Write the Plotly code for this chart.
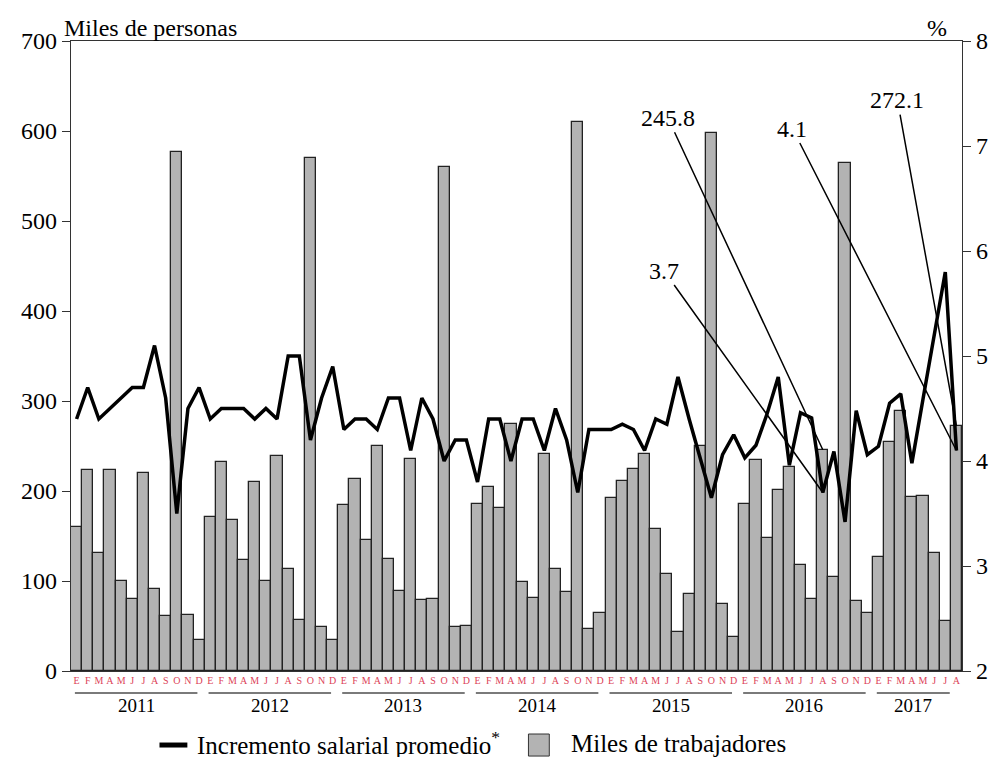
import plotly.graph_objects as go

years = ["2011", "2012", "2013", "2014", "2015", "2016", "2017"]
month_letters = ["E", "F", "M", "A", "M", "J", "J", "A", "S", "O", "N", "D"]

trabajadores_2011 = [160, 223, 131, 223, 100, 80, 220, 91, 61, 577, 62, 35]
trabajadores_2012 = [171, 232, 168, 123, 210, 100, 239, 113, 57, 570, 49, 35]
trabajadores_2013 = [184, 213, 146, 250, 125, 89, 236, 79, 80, 560, 49, 50]
trabajadores_2014 = [186, 205, 181, 275, 99, 81, 241, 113, 88, 610, 47, 65]
trabajadores_2015 = [192, 211, 225, 241, 158, 108, 43, 86, 250, 598, 75, 38]
trabajadores_2016 = [186, 235, 148, 201, 227, 118, 80, 245.8, 104, 564, 78, 65]
trabajadores_2017 = [127, 254, 289, 193, 194, 131, 56, 272.1]

incremento_2011 = [4.4, 4.7, 4.4, 4.5, 4.6, 4.7, 4.7, 5.1, 4.6, 3.5, 4.5, 4.7]
incremento_2012 = [4.4, 4.5, 4.5, 4.5, 4.4, 4.5, 4.4, 5.0, 5.0, 4.2, 4.6, 4.9]
incremento_2013 = [4.3, 4.4, 4.4, 4.3, 4.6, 4.6, 4.1, 4.6, 4.4, 4.0, 4.2, 4.2]
incremento_2014 = [3.8, 4.4, 4.4, 4.0, 4.4, 4.4, 4.1, 4.5, 4.2, 3.7, 4.3, 4.3]
incremento_2015 = [4.3, 4.35, 4.3, 4.1, 4.4, 4.35, 4.8, 4.4, 4.02, 3.65, 4.06, 4.25]
incremento_2016 = [4.03, 4.15, 4.45, 4.8, 3.96, 4.46, 4.41, 3.7, 4.09, 3.42, 4.48, 4.06]
incremento_2017 = [4.14, 4.55, 4.64, 3.98, 4.59, 5.2, 5.8, 4.1]

trab_by_year = [trabajadores_2011, trabajadores_2012, trabajadores_2013, trabajadores_2014,
                trabajadores_2015, trabajadores_2016, trabajadores_2017]
inc_by_year = [incremento_2011, incremento_2012, incremento_2013, incremento_2014,
               incremento_2015, incremento_2016, incremento_2017]

trabajadores = [v for yr in trab_by_year for v in yr]
incremento = [v for yr in inc_by_year for v in yr]
tick_text = [month_letters[i] for yr in trab_by_year for i in range(len(yr))]
xpos = list(range(len(trabajadores)))

FONT = "Liberation Serif"
BIG = 24
fig = go.Figure()
fig.add_trace(go.Bar(
    x=xpos, y=trabajadores, name="Miles de trabajadores",
    marker=dict(color="#b3b3b3", line=dict(color="#222222", width=1.3)),
    yaxis="y", showlegend=False,
))
fig.add_trace(go.Scatter(
    x=xpos, y=incremento, name="Incremento salarial promedio*",
    mode="lines", line=dict(color="black", width=3.5),
    yaxis="y2", showlegend=False,
))

fig.update_layout(
    width=1000, height=757,
    margin=dict(l=71, r=33, t=41, b=86),
    paper_bgcolor="white", plot_bgcolor="white",
    bargap=0,
    font=dict(family=FONT, color="black", size=BIG),
    xaxis=dict(
        range=[-0.5, len(trabajadores) - 0.5],
        tickmode="array", tickvals=xpos, ticktext=tick_text, tickangle=0,
        tickfont=dict(family=FONT, size=10, color="#dc3f58"),
        ticks="", showgrid=False, zeroline=False,
        showline=True, linecolor="#333333", linewidth=1.2, mirror=True,
    ),
    yaxis=dict(
        range=[0, 700], dtick=100, showgrid=False, zeroline=False,
        ticks="outside", ticklen=8, tickcolor="#333333",
        showline=True, linecolor="#333333", linewidth=1.2,
        tickfont=dict(family=FONT, size=BIG),
    ),
    yaxis2=dict(
        range=[2, 8], dtick=1, overlaying="y", side="right",
        showgrid=False, zeroline=False,
        ticks="outside", ticklen=8, tickcolor="#333333",
        showline=True, linecolor="#333333", linewidth=1.2,
        tickfont=dict(family=FONT, size=BIG),
    ),
)

annotations = [
    dict(text="Miles de personas", xref="paper", yref="paper", x=-0.01, y=1.0206,
         xanchor="left", yanchor="middle", showarrow=False, font=dict(size=BIG)),
    dict(text="%", xref="paper", yref="paper", x=0.972, y=1.0206,
         xanchor="center", yanchor="middle", showarrow=False, font=dict(size=BIG)),
]

shapes = []
start = 0
for yr, vals in zip(years, trab_by_year):
    n = len(vals)
    x0 = start - 0.15
    x1 = start + (10.85 if n == 12 else n - 1.6)
    shapes.append(dict(type="line", xref="x", yref="paper", x0=x0, x1=x1,
                       y0=-0.0349, y1=-0.0349, line=dict(color="#7a7a7a", width=2)))
    annotations.append(dict(text=yr, xref="x", yref="paper", x=(x0 + x1) / 2, y=-0.054,
                            xanchor="center", yanchor="middle", showarrow=False,
                            font=dict(size=19)))
    start += n

# Data callouts
i_aug16 = 12 * 5 + 7
i_aug17 = len(trabajadores) - 1
callouts = [
    dict(text=f"{trabajadores[i_aug16]:.1f}", x=i_aug16, y=trabajadores[i_aug16], yref="y", ax=-155, ay=-332),
    dict(text=f"{incremento[i_aug16]:.1f}", x=i_aug16, y=incremento[i_aug16], yref="y2", ax=-159, ay=-222),
    dict(text=f"{incremento[i_aug17]:.1f}", x=i_aug17, y=incremento[i_aug17], yref="y2", ax=-164, ay=-322),
    dict(text=f"{trabajadores[i_aug17]:.1f}", x=i_aug17, y=trabajadores[i_aug17], yref="y", ax=-59, ay=-326),
]
for c in callouts:
    annotations.append(dict(text=c["text"], xref="x", yref=c["yref"], x=c["x"], y=c["y"],
                            ax=c["ax"], ay=c["ay"], showarrow=True, arrowhead=0,
                            arrowwidth=1.5, arrowcolor="black", standoff=0,
                            font=dict(size=BIG)))

# Manual legend
shapes.append(dict(type="line", xref="paper", yref="paper", x0=0.0993, x1=0.1306,
                   y0=-0.1175, y1=-0.1175, line=dict(color="black", width=5)))
annotations.append(dict(text="Incremento salarial promedio<sup>*</sup>", xref="paper", yref="paper",
                        x=0.1395, y=-0.115, xanchor="left", yanchor="middle",
                        showarrow=False, font=dict(size=25)))
shapes.append(dict(type="rect", xref="paper", yref="paper", x0=0.5134, x1=0.5368,
                   y0=-0.135, y1=-0.1, fillcolor="#b3b3b3", line=dict(color="#333333", width=1)))
annotations.append(dict(text="Miles de trabajadores", xref="paper", yref="paper",
                        x=0.559, y=-0.115, xanchor="left", yanchor="middle",
                        showarrow=False, font=dict(size=25)))

fig.update_layout(annotations=annotations, shapes=shapes)
fig.write_html("out.html", config={"displayModeBar": False},
               post_script="document.body.style.margin='0';document.body.style.overflow='hidden';")
